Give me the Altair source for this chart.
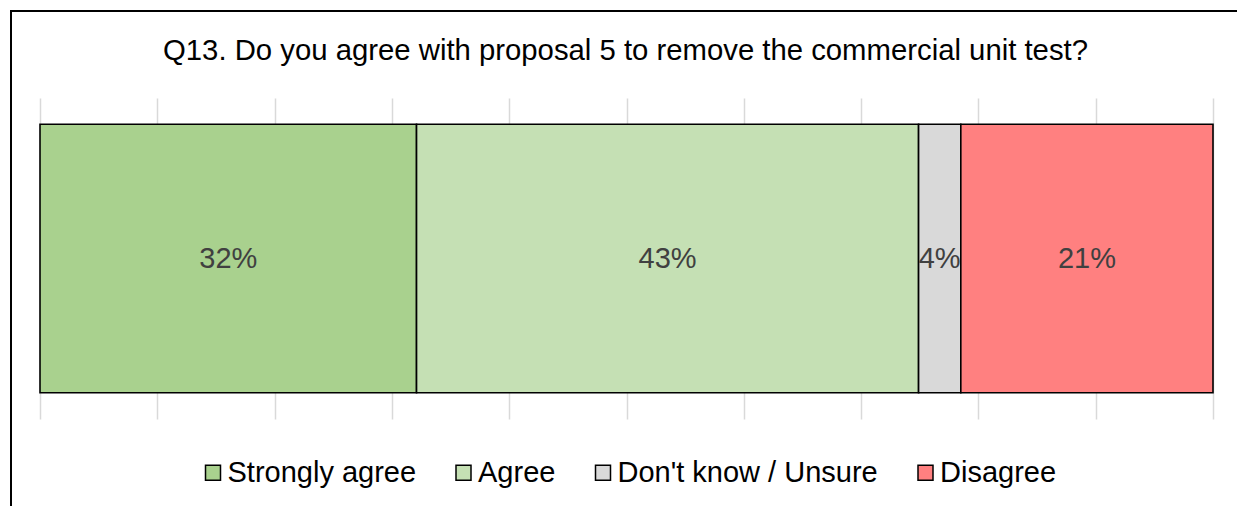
import altair as alt
import pandas as pd

TITLE = "Q13. Do you agree with proposal 5 to remove the commercial unit test?"
categories = ["Strongly agree", "Agree", "Don't know / Unsure", "Disagree"]
values = [32.1, 42.8, 3.6, 21.5]
labels = ["32%", "43%", "4%", "21%"]
colors = ["#A9D18E", "#C5E0B4", "#D9D9D9", "#FF8080"]
grid_ticks = [0, 10, 20, 30, 40, 50, 60, 70, 80, 90, 100]

FONT = "Liberation Sans"

df = pd.DataFrame({
    "row": ["Q13"] * len(categories),
    "category": categories,
    "value": values,
    "label": labels,
    "order": list(range(len(categories))),
})

base = alt.Chart(df).transform_stack(
    stack="value", as_=["start", "end"], groupby=["row"],
    sort=[alt.SortField("order", order="ascending")],
).transform_calculate(mid="(datum.start + datum.end) / 2")

xscale = alt.Scale(domain=[0, 100], nice=False, zero=True)
yscale = alt.Scale(paddingOuter=0.098, paddingInner=0)

bars = base.mark_bar(stroke="black", strokeWidth=1.6).encode(
    x=alt.X("start:Q", scale=xscale,
            axis=alt.Axis(grid=True, labels=False, ticks=False, domain=False,
                          title=None, values=grid_ticks, gridColor="#D9D9D9",
                          gridWidth=1.5, orient="bottom")),
    x2="end:Q",
    y=alt.Y("row:N", axis=None, scale=yscale),
    color=alt.Color(
        "category:N",
        scale=alt.Scale(domain=categories, range=colors),
        sort=categories,
        legend=alt.Legend(
            orient="none", legendX=158.5, legendY=360, direction="horizontal",
            title=None, symbolType="square", symbolSize=225,
            symbolStrokeColor="black", symbolStrokeWidth=1.5,
            labelFont=FONT, labelFontSize=29, labelColor="black",
            labelOffset=0, columnPadding=32.5, labelLimit=0,
        ),
    ),
)

texts = base.mark_text(font=FONT, fontSize=29, color="#404040",
                       baseline="middle", align="center").encode(
    x=alt.X("mid:Q", scale=xscale),
    y=alt.Y("row:N", axis=None, scale=yscale),
    text="label:N",
)

title = alt.Chart(pd.DataFrame({"t": [TITLE]})).mark_text(
    font=FONT, fontSize=29.3, color="black", align="center", baseline="alphabetic"
).encode(text="t:N", x=alt.value(585.5), y=alt.value(-38))

frame = alt.Chart(pd.DataFrame({"f": [0]})).mark_rect(
    fillOpacity=0, stroke="black", strokeWidth=2
).encode(x=alt.value(-29), x2=alt.value(1260), y=alt.value(-87), y2=alt.value(520))

chart = alt.layer(bars, texts, title, frame).properties(
    width=1173, height=321,
    padding={"left": 40, "top": 98, "right": 24, "bottom": 87},
    autosize="none",
    background="white",
).configure_view(strokeWidth=0)

chart.save("out.html", embed_options={"renderer": "svg", "actions": False})
